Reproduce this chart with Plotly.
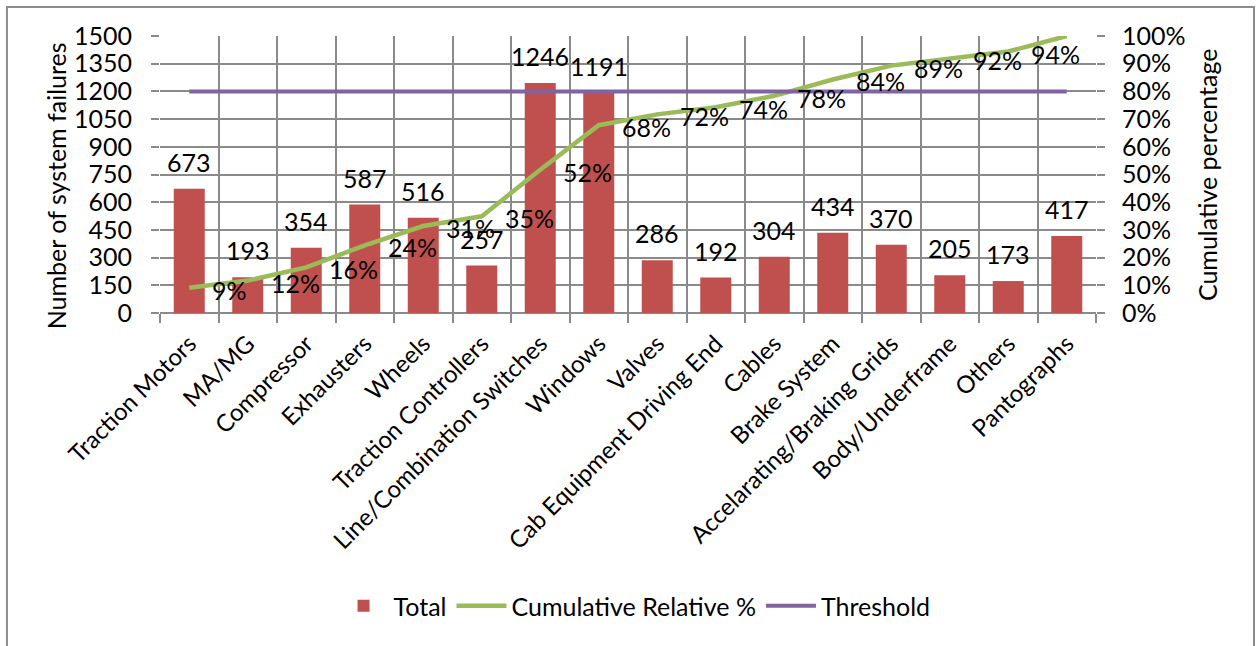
import plotly.graph_objects as go

categories = ["Traction Motors", "MA/MG", "Compressor", "Exhausters", "Wheels",
              "Traction Controllers", "Line/Combination Switches", "Windows", "Valves",
              "Cab Equipment Driving End", "Cables", "Brake System",
              "Accelarating/Braking Grids", "Body/Underframe", "Others", "Pantographs"]
totals = [673, 193, 354, 587, 516, 257, 1246, 1191, 286, 192, 304, 434, 370, 205, 173, 417]
cumulative_pct = [9.1, 11.7, 16.49, 24.4, 31.4, 34.9, 51.7, 67.8, 71.7, 74.3, 78.4, 84.3,
                  89.3, 92.0, 94.4, 100.0]
cumulative_labels = ["9%", "12%", "16%", "24%", "31%", "35%", "52%", "68%", "72%", "74%",
                     "78%", "84%", "89%", "92%", "94%", ""]
threshold = [80] * len(categories)

FONT = "Lato"
FS = 25
BAR = "#C0504D"
GREEN = "#9BBB59"
PURPLE = "#8064A2"
GRID = "#8A8A8A"

fig = go.Figure()
fig.add_trace(go.Bar(x=categories, y=totals, name="Total", marker_color=BAR,
                     marker_line_width=0, yaxis="y"))
fig.add_trace(go.Scatter(x=categories, y=cumulative_pct, name="Cumulative Relative %",
                         mode="lines", line=dict(color=GREEN, width=4.5), yaxis="y2"))
fig.add_trace(go.Scatter(x=categories, y=threshold, name="Threshold",
                         mode="lines", line=dict(color=PURPLE, width=4), yaxis="y2"))

annotations = []
for c, v in zip(categories, totals):
    annotations.append(dict(x=c, y=v, xref="x", yref="y", text=str(v), showarrow=False,
                            xanchor="center", yanchor="middle", yshift=27,
                            font=dict(family=FONT, size=FS, color="black")))
for c, v, t in zip(categories, cumulative_pct, cumulative_labels):
    if t:
        annotations.append(dict(x=c, y=v, xref="x", yref="y2", text=t, showarrow=False,
                                xanchor="left", yanchor="middle", xshift=21, yshift=-2,
                                font=dict(family=FONT, size=FS, color="black")))
annotations.append(dict(x=-0.111, y=0.458, xref="paper", yref="paper",
                        text="Number of system failures", textangle=-90, showarrow=False,
                        xanchor="center", yanchor="middle",
                        font=dict(family=FONT, size=FS, color="black")))
annotations.append(dict(x=1.1186, y=0.498, xref="paper", yref="paper",
                        text="Cumulative percentage", textangle=-90, showarrow=False,
                        xanchor="center", yanchor="middle",
                        font=dict(family=FONT, size=FS, color="black")))

fig.update_layout(
    width=1256, height=646,
    margin=dict(l=160, r=160, t=36, b=333, autoexpand=False),
    paper_bgcolor="white", plot_bgcolor="white",
    font=dict(family=FONT, size=FS, color="black"),
    bargap=0.47,
    showlegend=True,
    legend=dict(orientation="h", x=0.507, xanchor="center", y=-1.058, yanchor="middle",
                font=dict(family=FONT, size=FS, color="black"), bgcolor="rgba(0,0,0,0)",
                itemwidth=50),
    xaxis=dict(type="category", tickangle=-45, tickson="boundaries", ticks="outside",
               ticklen=9, tickcolor=GRID, tickwidth=2, showgrid=True, gridcolor=GRID,
               gridwidth=2, range=[-0.5, 15.5], tickfont=dict(family=FONT, size=24),
               showline=False, ticklabelstandoff=11),
    yaxis=dict(range=[0, 1500], dtick=150, tick0=0, ticks="outside", ticklen=8,
               tickcolor=GRID, tickwidth=2, showgrid=True, gridcolor=GRID, gridwidth=2,
               zeroline=True, zerolinecolor=GRID, zerolinewidth=2,
               tickfont=dict(family=FONT, size=FS), ticklabelstandoff=14),
    yaxis2=dict(range=[0, 100], dtick=10, tick0=0, ticksuffix="%", overlaying="y",
                side="right", ticks="outside", ticklen=8, tickcolor=GRID, tickwidth=2,
                showgrid=False, zeroline=False, tickfont=dict(family=FONT, size=FS),
                ticklabelstandoff=12),
    annotations=annotations,
    shapes=[dict(type="rect", xref="paper", yref="paper", x0=-0.1635, x1=1.1688,
                 y0=-1.3, y1=1.1047, line=dict(color="#8C8C8C", width=2),
                 fillcolor="rgba(0,0,0,0)", layer="below")],
)

fig.write_html("out.html")
